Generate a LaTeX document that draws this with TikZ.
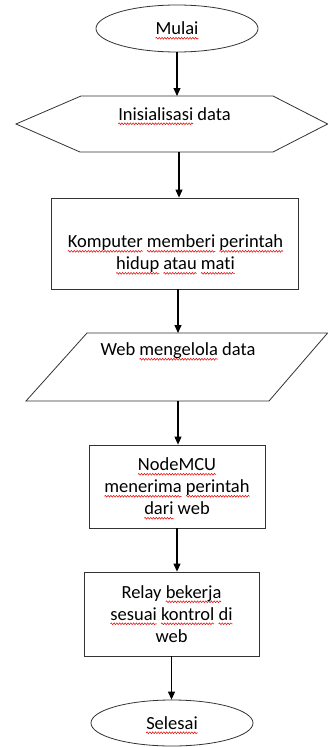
\documentclass[tikz,border=0pt]{standalone}
\usepackage{fontspec}
\setmainfont{Carlito}[Ligatures=NoCommon]
\usetikzlibrary{shapes.geometric,arrows.meta,decorations.pathmorphing}
\newsavebox\sqbox
\newcommand\sq[1]{\sbox\sqbox{#1}\leavevmode\rlap{\tikz[overlay,baseline=0pt,x=1pt,y=1pt]\draw[red!90!black, line width=0.5pt, decorate, decoration={snake, amplitude=0.9pt, segment length=2.8pt}] (0,-3.4) -- (\the\wd\sqbox,-3.4);}#1}
\begin{document}
\begin{tikzpicture}[x=1pt,y=-1pt,
  shp/.style={draw=black!80, line width=0.8pt, fill=white},
  term/.style={shp, ellipse, inner sep=0pt, font=\fontsize{18.5}{22}\selectfont},
  box/.style={shp, rectangle, inner sep=0pt, align=center, font=\fontsize{18.5}{22}\selectfont},
  txt/.style={inner sep=0pt, align=center, font=\fontsize{18.5}{22}\selectfont},
  arr/.style={-{Triangle[length=8pt,width=7pt]}, line width=1.1pt}]
\useasboundingbox (0,0) rectangle (328,747);
\fill[white] (0,0) rectangle (328,747);
% start
\node[term, minimum width=162pt, minimum height=47pt] (mulai) at (177,28.5) {\sq{Mulai}};
% hexagon
\draw[shp] (81,96) -- (273,96) -- (327.6,124) -- (273,152) -- (80,152) -- (16,124) -- cycle;
\coordinate (hexT) at (177,96);
\coordinate (hexB) at (179,152);
\node[txt] (init) at (174.5,114) {\sq{Inisialisasi} data};
% box 2
\node[box, minimum width=247pt, minimum height=91pt] (komp) at (174.5,243.5) {};
\node[txt] (komptxt) at (175.5,254) {\sq{Komputer} \sq{memberi} \sq{perintah}\\\sq{hidup} \sq{atau} \sq{mati}};
% parallelogram
\draw[shp] (87,333) -- (327.6,333) -- (269,401) -- (26,401) -- cycle;
\coordinate (paraT) at (178,333);
\coordinate (paraB) at (178,401);
\node[txt] (web) at (178,351) {Web \sq{mengelola} data};
% box 3
\node[box, minimum width=176pt, minimum height=83pt] (nmcu) at (177,486.5) {\sq{NodeMCU}\\\sq{menerima} \sq{perintah}\\\sq{dari} web};
% box 4
\node[box, minimum width=175pt, minimum height=84pt] (relay) at (171.5,614) {Relay \sq{bekerja}\\\sq{sesuai} \sq{kontrol} \sq{di}\\web};
% end
\node[term, minimum width=162pt, minimum height=46pt] (selesai) at (172,723) {\sq{Selesai}};
% arrows
\draw[arr] (mulai.south) -- (hexT);
\draw[arr] (hexB) -- (hexB |- komp.north);
\draw[arr] (paraT |- komp.south) -- (paraT);
\draw[arr] (paraB) -- (paraB |- nmcu.north);
\draw[arr] (nmcu.south) -- (nmcu.south |- relay.north);
\draw[arr] (relay.south) -- (relay.south |- selesai.north);
\end{tikzpicture}
\end{document}
